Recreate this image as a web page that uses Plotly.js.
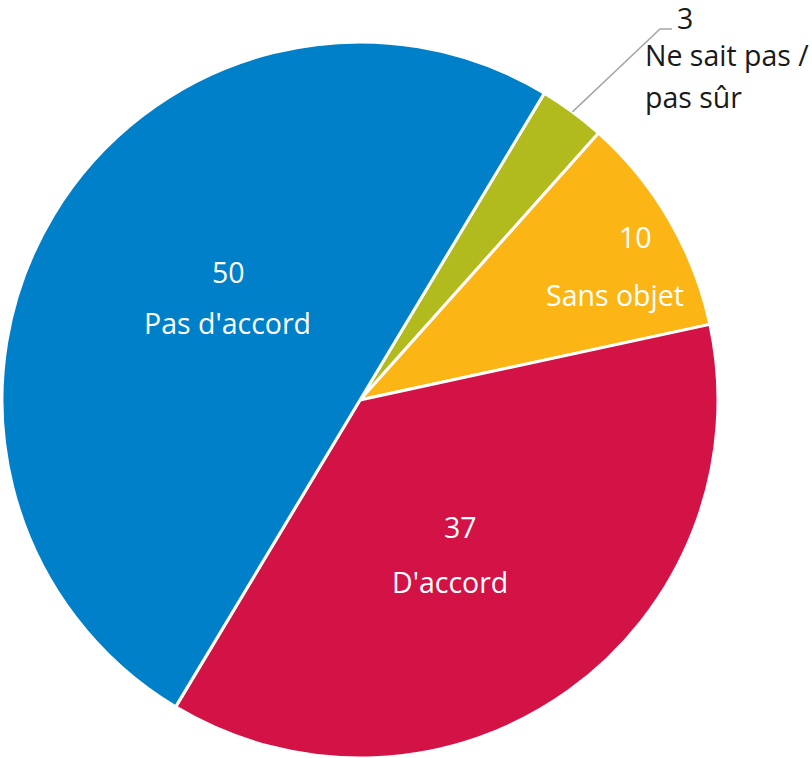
<!DOCTYPE html>
<html>
<head>
<meta charset="utf-8">
<script src="https://cdn.plot.ly/plotly-3.0.1.min.js"></script>
<style>html,body{margin:0;padding:0;background:#fff;}#chart{width:812px;height:758px;}</style>
</head>
<body>
<div id="chart"></div>
<script>
// Data (clockwise order starting at the top-right)
const categories = ["Ne sait pas /<br>pas sûr", "Sans objet", "D'accord", "Pas d'accord"];
const values = [3, 10, 37, 50];
const colors = ["#B2BB1E", "#FBB615", "#D31245", "#0080C9"];

// Label positions (pixels): value line, then each label line
const W = 812, H = 758;
const valuePos = [[685, 18], [635, 237], [460, 527], [228, 272]];
const labelPos = [[[643, 55], [643, 97]], [[615, 295]], [[450, 582]], [[227, 323]]];
const FONT = "Open Sans, DejaVu Sans, sans-serif";
const fs = 28.5;

const pieL = 2, pieT = 42, pieSize = 716;
const cx = pieL + pieSize / 2, cy = pieT + pieSize / 2, R = pieSize / 2;
const rotation = 31;

const px = x => x / W, py = y => 1 - y / H;

const annotations = [];
categories.forEach((c, i) => {
  const outside = i === 0;
  const col = outside ? "#1a1a1a" : "#ffffff";
  annotations.push({
    xref: "paper", yref: "paper", x: px(valuePos[i][0]), y: py(valuePos[i][1]),
    text: String(values[i]), showarrow: false, xanchor: "center", yanchor: "middle",
    font: {family: FONT, size: fs, color: col}
  });
  c.split("<br>").forEach((line, j) => {
    const p = labelPos[i][j];
    annotations.push({
      xref: "paper", yref: "paper", x: px(p[0]), y: py(p[1]),
      text: line, showarrow: false, xanchor: outside ? "left" : "center", yanchor: "middle",
      font: {family: FONT, size: fs, color: col}
    });
  });
});

// leader line for the small slice, starting at slice mid-angle on the rim
const total = values.reduce((a, b) => a + b, 0);
const midDeg = rotation + (values[0] / total) * 360 / 2;
const mr = midDeg * Math.PI / 180;
const sx = cx + R * Math.sin(mr), sy = cy - R * Math.cos(mr);
const ex = 660, ey = 29, hx = 672;
const shapes = [{
  type: "path", xref: "paper", yref: "paper",
  path: `M ${px(sx)} ${py(sy)} L ${px(ex)} ${py(ey)} L ${px(hx)} ${py(ey)}`,
  line: {color: "#A6A6A6", width: 1.5}
}];

const trace = {
  type: "pie",
  labels: categories,
  values: values,
  sort: false,
  direction: "clockwise",
  rotation: rotation,
  textinfo: "none",
  hoverinfo: "none",
  marker: {colors: colors, line: {color: "#ffffff", width: 3}},
  domain: {x: [pieL / W, (pieL + pieSize) / W], y: [1 - (pieT + pieSize) / H, 1 - pieT / H]},
  showlegend: false
};

Plotly.newPlot("chart", [trace], {
  width: W, height: H,
  margin: {l: 0, r: 0, t: 0, b: 0},
  paper_bgcolor: "#ffffff",
  showlegend: false,
  annotations: annotations,
  shapes: shapes
}, {staticPlot: true});
</script>
</body>
</html>
